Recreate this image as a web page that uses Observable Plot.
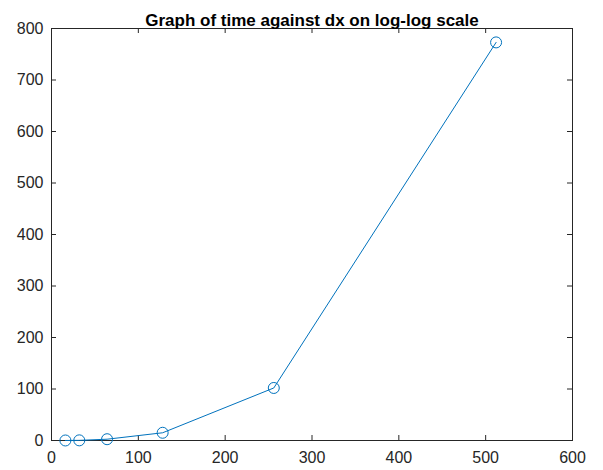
<!DOCTYPE html>
<html>
<head>
<meta charset="utf-8">
<script src="https://cdn.jsdelivr.net/npm/d3@7"></script>
<script src="https://cdn.jsdelivr.net/npm/@observablehq/plot@0.6"></script>
<style>
  html, body { margin: 0; padding: 0; background: #fff; }
  #chart svg { display: block; }
</style>
</head>
<body>
<div id="chart"></div>
<script>
const dx = [16, 32, 64, 128, 256, 512];
const time = [0.05, 0.3, 2.5, 15, 102, 773];
const xTicks = [0, 100, 200, 300, 400, 500, 600];
const yTicks = [0, 100, 200, 300, 400, 500, 600, 700, 800];
const title = "Graph of time against dx on log-log scale";

const data = dx.map((x, i) => ({x, y: time[i]}));

const W = 603, H = 470, mL = 51, mR = 31, mT = 28, mB = 30;
const fw = W - mL - mR, fh = H - mT - mB, tl = 5;
const ink = "#262626";

const chart = Plot.plot({
  width: W, height: H,
  marginLeft: mL, marginRight: mR, marginTop: mT, marginBottom: mB,
  style: {fontFamily: "Arial, 'Liberation Sans', Helvetica, sans-serif", fontSize: "16px", color: ink, background: "#fff"},
  x: {domain: [0, 600], ticks: xTicks, label: null},
  y: {domain: [0, 800], ticks: yTicks, label: null},
  marks: [
    Plot.axisX(xTicks, {tickSize: 0, tickPadding: 11, fontSize: 16, fill: ink, label: null}),
    Plot.axisY(yTicks, {tickSize: 0, tickPadding: 8, fontSize: 16, fill: ink, label: null}),
    Plot.tickX(xTicks, {x: d => d, insetTop: fh - tl, stroke: ink, strokeWidth: 1}),
    Plot.tickX(xTicks, {x: d => d, insetBottom: fh - tl, stroke: ink, strokeWidth: 1}),
    Plot.tickY(yTicks, {y: d => d, insetRight: fw - tl, stroke: ink, strokeWidth: 1}),
    Plot.tickY(yTicks, {y: d => d, insetLeft: fw - tl, stroke: ink, strokeWidth: 1}),
    Plot.frame({stroke: ink, strokeWidth: 1}),
    Plot.line(data, {x: "x", y: "y", stroke: "#0072BD", strokeWidth: 1}),
    Plot.dot(data, {x: "x", y: "y", r: 5.5, stroke: "#0072BD", fill: "none", strokeWidth: 1}),
    Plot.text([title], {frameAnchor: "top", dy: -15, text: d => d, fontWeight: "bold", fontSize: 17, fill: "#000"})
  ]
});
document.getElementById("chart").append(chart);
</script>
</body>
</html>
